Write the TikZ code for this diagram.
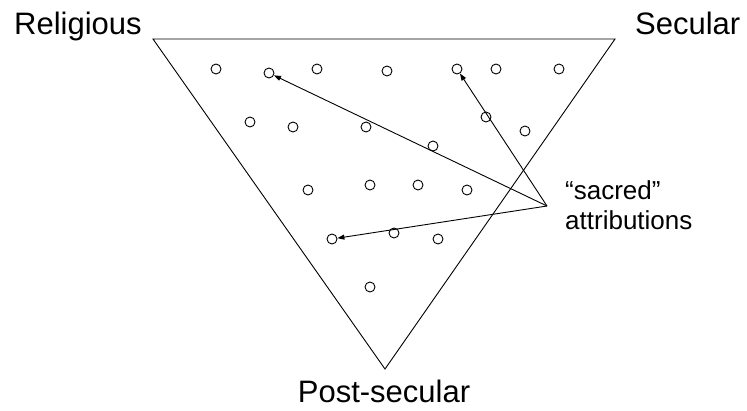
\documentclass[tikz,border=0pt]{standalone}
\usepackage{fontspec}
\setmainfont{Liberation Sans}
\usetikzlibrary{arrows.meta}
\begin{document}
\begin{tikzpicture}[x=1pt,y=-1pt,
  dot/.style={circle,draw,line width=0.9pt,minimum size=10pt,inner sep=0pt},
  conn/.style={line width=0.9pt,-{Triangle[length=7pt,width=5pt]},shorten >=0pt},
  lbl/.style={font=\fontsize{31}{36}\selectfont,inner sep=0pt}]
\useasboundingbox (0,0) rectangle (747,410);
\coordinate (tl) at (153,39);
\coordinate (tr) at (615,39);
\coordinate (bt) at (385,369);
\draw[line width=0.9pt] (tl) -- (tr) -- (bt) -- cycle;
% circles
\node[dot] (c1) at (216,69) {};
\node[dot] (c2) at (269,73) {};
\node[dot] (c3) at (317,69) {};
\node[dot] (c4) at (387,71) {};
\node[dot] (c5) at (457,69) {};
\node[dot] (c6) at (496,69) {};
\node[dot] (c7) at (559,69) {};
\node[dot] (c8) at (250,122) {};
\node[dot] (c9) at (293,127) {};
\node[dot] (c10) at (366,127) {};
\node[dot] (c11) at (486,117) {};
\node[dot] (c12) at (525,131) {};
\node[dot] (c13) at (433,146) {};
\node[dot] (c14) at (308,190) {};
\node[dot] (c15) at (370,185) {};
\node[dot] (c16) at (418,185) {};
\node[dot] (c17) at (467,190) {};
\node[dot] (c18) at (332,239) {};
\node[dot] (c19) at (394,233) {};
\node[dot] (c20) at (438,239) {};
\node[dot] (c21) at (370,287) {};
% labels
\node[lbl,anchor=base west] (rel) at (14,34) {Religious};
\node[lbl,anchor=base west] (sec) at (635,34) {Secular};
\node[lbl,anchor=base] (post) at (384,402) {Post-secular};
\node[font=\fontsize{26}{30}\selectfont,anchor=north west,align=left,inner sep=0pt] (sac) at (565,180) {“sacred”\\attributions};
% arrows
\coordinate (src) at (547,206);
\draw[conn] (src) -- (c2);
\draw[conn] (src) -- (c5);
\draw[conn] (src) -- (c18);
\end{tikzpicture}
\end{document}
